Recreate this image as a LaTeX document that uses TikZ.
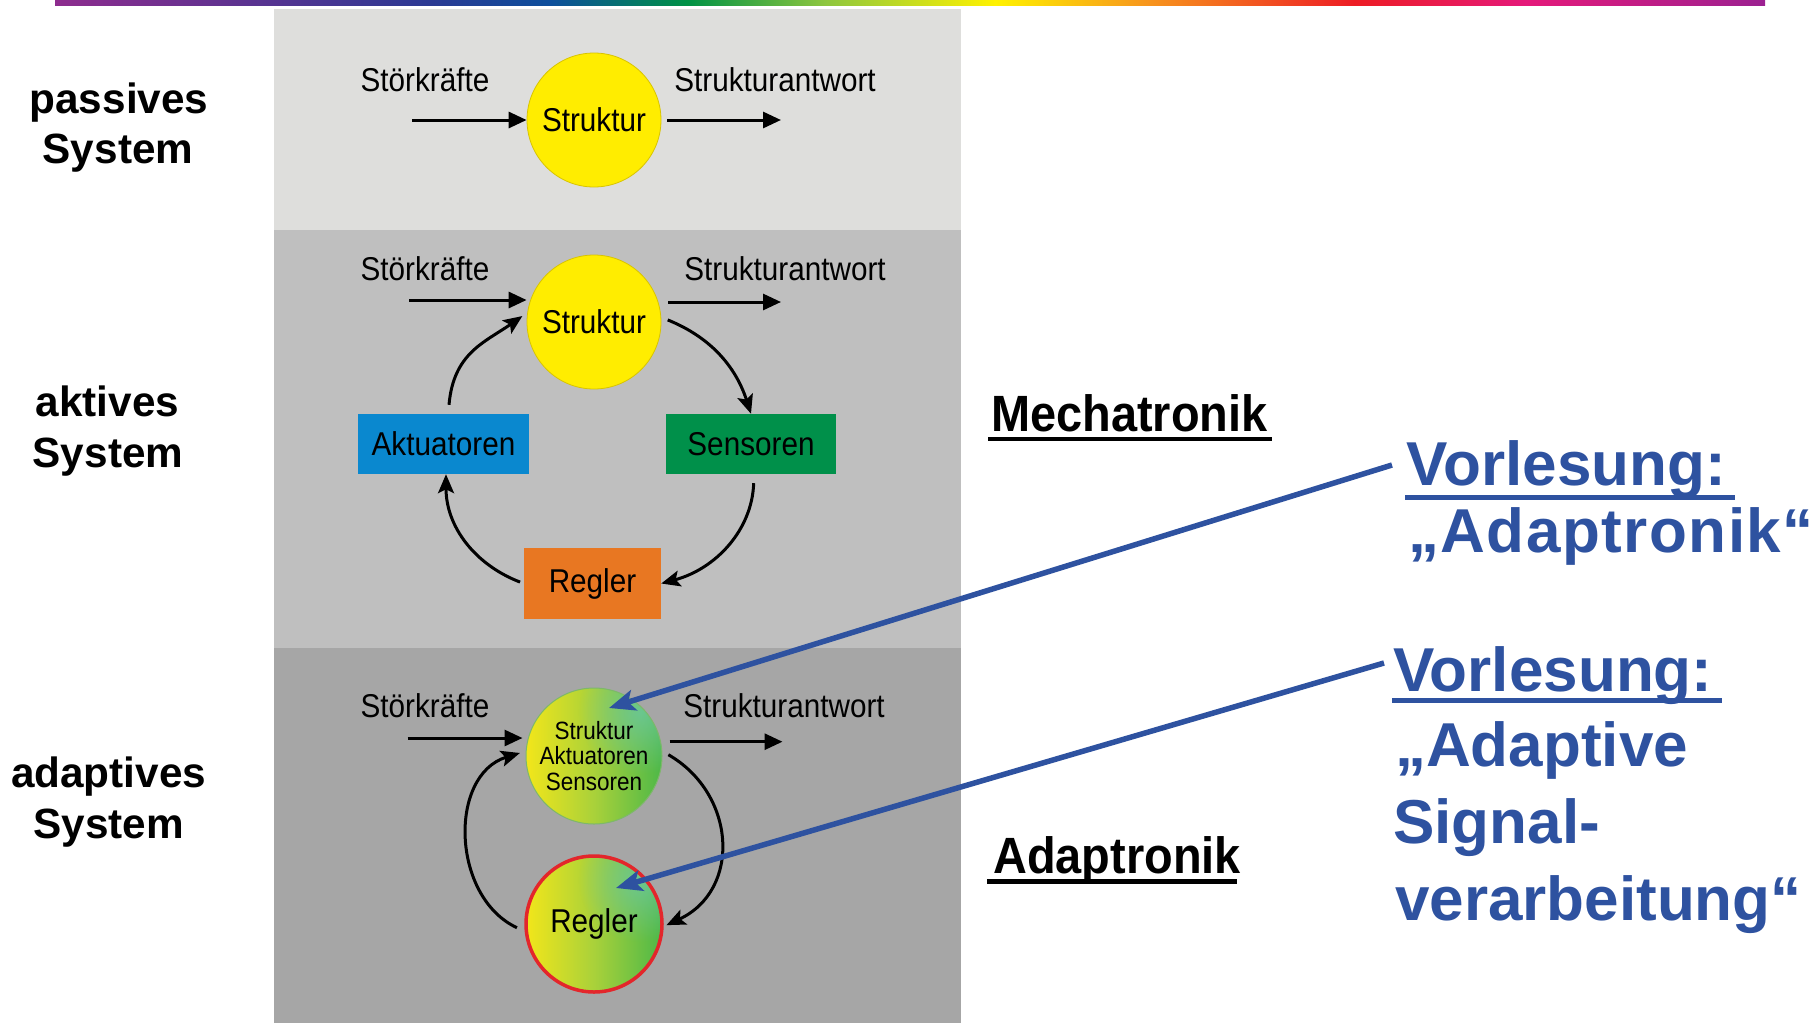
\documentclass[tikz,border=0pt]{standalone}
\usepackage{fontspec}
\setmainfont{Liberation Sans}
\newfontfamily\nsans[FakeStretch=0.9]{Liberation Sans}
\newfontfamily\nbsans[FakeStretch=0.92]{Liberation Sans}
\usetikzlibrary{arrows.meta,calc,fadings}

\definecolor{panelA}{HTML}{DEDEDC}
\definecolor{panelB}{HTML}{BFBFBF}
\definecolor{panelC}{HTML}{A6A6A6}
\definecolor{strukYellow}{HTML}{FFED00}
\definecolor{strukEdge}{HTML}{D8C400}
\definecolor{aktBlue}{HTML}{0A88CF}
\definecolor{senGreen}{HTML}{00904A}
\definecolor{regOrange}{HTML}{E87722}
\definecolor{lectBlue}{HTML}{2E52A0}
\definecolor{adRed}{HTML}{E3262B}
\definecolor{gYellow}{HTML}{F2E61A}
\definecolor{gMid}{HTML}{A9D13A}
\definecolor{gGreen}{HTML}{4DB848}
\definecolor{gTeal}{HTML}{6CC9A8}
\definecolor{gEdge}{HTML}{7DB86A}
\definecolor{rbA}{HTML}{8E2C8E}
\definecolor{rbB}{HTML}{2B3A93}
\definecolor{rbC}{HTML}{0D4F9C}
\definecolor{rbD}{HTML}{009245}
\definecolor{rbE}{HTML}{8DC63F}
\definecolor{rbF}{HTML}{FFF200}
\definecolor{rbG}{HTML}{F7941D}
\definecolor{rbH}{HTML}{ED1C24}
\definecolor{rbI}{HTML}{E5197A}
\definecolor{rbJ}{HTML}{9B2191}

\pgfdeclarehorizontalshading{rainbowbar}{100bp}{color(0bp)=(rbA); color(25bp)=(rbA); color(36bp)=(rbB); color(39.5bp)=(rbC); color(43.5bp)=(rbD); color(47.5bp)=(rbE); color(52.5bp)=(rbF); color(57bp)=(rbG); color(63bp)=(rbH); color(68bp)=(rbI); color(75bp)=(rbJ); color(100bp)=(rbJ)}
\pgfdeclarehorizontalshading{ygshade}{100bp}{color(0bp)=(gYellow); color(25bp)=(gYellow); color(50bp)=(gMid); color(75bp)=(gGreen); color(100bp)=(gGreen)}
\tikzfading[name=tealglow, inner color=transparent!25, outer color=transparent!100]

\begin{document}
\begin{tikzpicture}[x=1pt,y=-1pt,
  lbl/.style={font=\nsans\fontsize{33}{38}\selectfont, inner sep=0, anchor=base},
  sideLbl/.style={font=\bfseries\fontsize{42.3}{50}\selectfont, inner sep=0, anchor=base},
  headLbl/.style={font=\nbsans\bfseries\fontsize{51}{58}\selectfont, inner sep=0, anchor=base west},
  lectLbl/.style={font=\bfseries\fontsize{62}{70}\selectfont, text=lectBlue, inner sep=0, anchor=base west},
  arr/.style={line width=3pt, -{Triangle[length=18pt,width=16pt]}},
  carr/.style={line width=3pt, -{Stealth[length=19pt,width=16pt,inset=4pt]}},
  blueArr/.style={draw=lectBlue, line width=5.5pt, -{Stealth[length=26pt,width=21pt,inset=6pt]}},
  strukC/.style={circle, minimum size=134pt, inner sep=0, fill=strukYellow, draw=strukEdge, line width=0.8pt, font=\nsans\fontsize{33}{38}\selectfont},
  gradC/.style={circle, minimum size=136pt, inner sep=0},
  boxN/.style={rectangle, inner sep=0, font=\nsans\fontsize{33}{38}\selectfont}
]
\useasboundingbox (0,0) rectangle (1812,1023);
\fill[white] (0,0) rectangle (1812,1023);

% rainbow bar
\shade[shading=rainbowbar] (55,0) rectangle (1765,5.5);

% panels
\fill[panelA] (274,9) rectangle (961,230);
\fill[panelB] (274,230) rectangle (961,648);
\fill[panelC] (274,648) rectangle (961,1023);

% side labels
\node[sideLbl] (pL1) at (119,113.3) {passives};
\node[sideLbl] (pL2) at (118,163) {System};
\node[sideLbl] (aL1) at (107.5,416) {aktives};
\node[sideLbl] (aL2) at (108,467) {System};
\node[sideLbl] (dL1) at (108.6,787) {adaptives};
\node[sideLbl] (dL2) at (108.6,838) {System};

% ---------- panel 1: passive ----------
\node[strukC] (S1) at (594,120) {Struktur};
\node[lbl] (st1) at (425,91) {Störkräfte};
\node[lbl] (sa1) at (775,91) {Strukturantwort};
\coordinate (in1) at (412,120);
\coordinate (out1) at (781,120);
\draw[arr] (in1) -- (S1.west);
\draw[arr] ([xshift=6pt]S1.east) -- (out1);

% ---------- panel 2: active ----------
\node[strukC] (S2) at (594,322) {Struktur};
\node[lbl] (st2) at (425,280) {Störkräfte};
\node[lbl] (sa2) at (785,280) {Strukturantwort};
\node[boxN, fill=aktBlue, minimum width=171pt, minimum height=60pt] (Akt) at (443.5,444) {Aktuatoren};
\node[boxN, fill=senGreen, minimum width=170pt, minimum height=60pt] (Sen) at (751,444) {Sensoren};
\node[boxN, fill=regOrange, minimum width=137pt, minimum height=71pt] (Reg) at (592.5,583.5) {Regler};
\coordinate (in2) at (409,300);
\coordinate (out2) at (781,302);
\draw[arr] (in2) -- (in2 -| S2.west);
\draw[arr] ($(S2.east |- out2)+(7,0)$) -- (out2);
\draw[carr, shorten >=6pt] ($(Akt.north)+(5.5,-9)$) to[out=85,in=215,looseness=1.1] (S2.172);
\draw[carr, shorten <=7pt] (S2.4) to[out=-22,in=108] (Sen.north);
\draw[carr, shorten <=9pt] ($(Sen.south)+(3,0)$) to[out=-92,in=15] (Reg.east);
\draw[carr, shorten <=4pt] (Reg.west) to[out=159,in=-90] ($(Akt.south)+(2.5,0)$);

% ---------- panel 3: adaptive ----------
% gradient fills of the two round elements
\shade[shading=ygshade] (594,756) circle (68pt);
\begin{scope}
  \clip (594,756) circle (68pt);
  \fill[gTeal, path fading=tealglow] (640,712) circle (62pt);
\end{scope}
\shade[shading=ygshade] (594,924) circle (68pt);
\begin{scope}
  \clip (594,924) circle (68pt);
  \fill[gTeal, path fading=tealglow] (640,880) circle (62pt);
\end{scope}
\node[gradC, draw=gEdge, line width=1pt, align=center, font=\nsans\fontsize{25}{25.5}\selectfont] (S3) at (594,756) {Struktur\\Aktuatoren\\Sensoren};
\node[gradC, draw=adRed, line width=3.5pt, font=\nsans\fontsize{33}{38}\selectfont] (R3) at (594,924) {Regler};
\node[lbl] (st3) at (425,717) {Störkräfte};
\node[lbl] (sa3) at (784,717) {Strukturantwort};
\coordinate (in3) at (407.5,738);
\coordinate (out3) at (782.5,741.7);
\draw[arr, shorten >=3pt] (in3) -- (in3 -| S3.west);
\draw[arr] ($(S3.east |- out3)+(7,0)$) -- (out3);
\draw[carr, shorten <=7pt, shorten >=3pt] (S3.4) to[out=-30,in=25,looseness=1.25] (R3.-2);
\draw[carr, shorten <=8.5pt, shorten >=6pt] (R3.186) to[out=155,in=197,looseness=1.15] (S3.176);

% ---------- right side texts ----------
\node[headLbl] (mech) at (991,431.7) {Mechatronik};
\draw[line width=4pt] (988,439) -- (1272,439);
\node[headLbl] (adap) at (993,873) {Adaptronik};
\draw[line width=5pt] (987,881.5) -- (1237,881.5);

\node[lectLbl] (V1a) at (1406.7,485) {Vorlesung:};
\draw[lectBlue, line width=5pt] (1405,497.5) -- (1735,497.5);
\node[lectLbl] (V1b) at (1408,552) {\addfontfeature{LetterSpace=2.4}„Adaptronik“};

\node[lectLbl] (V2a) at (1393,691.7) {Vorlesung:};
\draw[lectBlue, line width=5pt] (1392,700.5) -- (1722,700.5);
\node[lectLbl] (V2b) at (1395,766.7) {„Adaptive};
\node[lectLbl] (V2c) at (1393,843.3) {Signal-};
\node[lectLbl] (V2d) at (1395,920) {verarbeitung“};

% ---------- blue pointer arrows ----------
\coordinate (b1s) at (1392,465);
\coordinate (b1t) at (609,708);
\coordinate (b2s) at (1384,663);
\coordinate (b2t) at (616,888);
\draw[blueArr] (b1s) -- (b1t);
\draw[blueArr] (b2s) -- (b2t);
\end{tikzpicture}
\end{document}
